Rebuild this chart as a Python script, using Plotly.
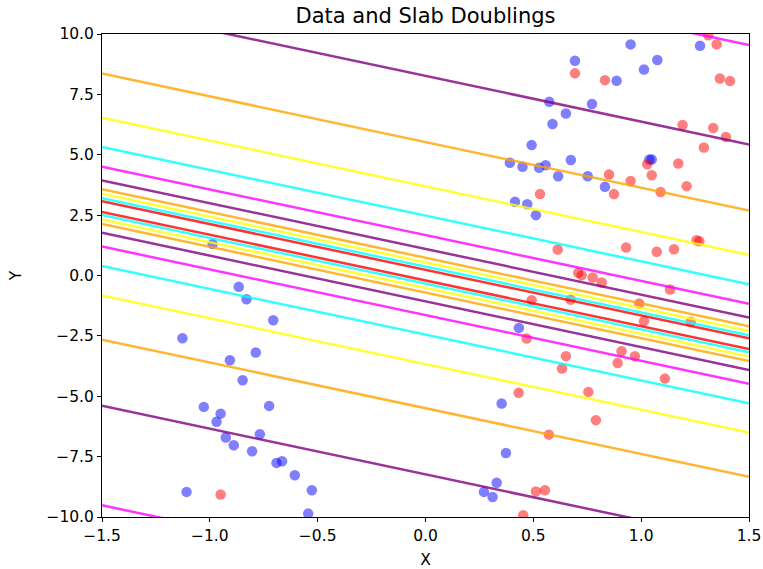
import plotly.graph_objects as go

# ---- data ----
blue_x = [-0.987, -0.866, -0.830, -0.706, -1.127, -0.787, -0.907, -0.848, -1.028, -0.725,
          -0.950, -0.969, -0.768, -0.926, -0.889, -0.804, -0.691, -0.665, -0.606, -1.108,
          -0.527, -0.544,
          0.353, 0.373, 0.330, 0.271, 0.311, 0.433,
          0.693, 0.886, 0.574, 0.772, 0.651, 0.589, 0.492, 0.391, 0.450, 0.527,
          0.557, 0.674, 0.615, 0.752, 0.832, 0.415, 0.472, 0.512,
          0.951, 1.273, 1.075, 1.013, 1.038, 1.049]
blue_y = [1.30, -0.47, -0.98, -1.85, -2.60, -3.19, -3.51, -4.34, -5.44, -5.40,
          -5.72, -6.06, -6.57, -6.71, -7.03, -7.28, -7.76, -7.69, -8.27, -8.96,
          -8.89, -9.86,
          -5.30, -7.35, -8.58, -8.96, -9.17, -2.17,
          8.89, 8.06, 7.19, 7.10, 6.71, 6.27, 5.40, 4.67, 4.50, 4.46,
          4.57, 4.78, 4.11, 4.11, 3.67, 3.05, 2.95, 2.50,
          9.57, 9.51, 8.92, 8.53, 4.80, 4.80]

red_x = [-0.950,
         0.432, 0.755, 0.790, 0.572, 0.512, 0.554, 0.453, 0.633,
         0.613, 0.930, 1.072, 1.152, 1.257, 1.270, 0.708, 0.724, 0.775, 0.817,
         0.492, 0.673, 0.469, 0.651, 0.909, 0.891, 1.134, 0.991, 1.013, 1.230,
         0.971, 1.110,
         0.693, 0.832, 0.531, 0.851, 0.874, 1.350, 1.311, 1.365, 1.412, 1.192,
         1.334, 1.393, 1.291, 1.172, 1.028, 1.049, 0.951, 1.211, 1.090]
red_y = [-9.07,
         -4.86, -4.82, -5.99, -6.59, -8.94, -8.89, -9.93, -3.85,
         1.08, 1.16, 0.98, 1.09, 1.46, 1.42, 0.11, 0.01, -0.08, -0.29,
         -1.02, -1.00, -2.61, -3.34, -3.14, -3.62, -0.58, -1.16, -1.89, -1.92,
         -3.34, -4.27,
         8.37, 8.09, 3.37, 4.18, 3.37, 9.57, 9.95, 8.16, 8.05, 6.23,
         6.11, 5.74, 5.30, 4.64, 4.61, 4.15, 3.91, 3.70, 3.46]

# slab lines: center line y = slope*x + center, boundaries at +/- half width
slope = -1.893
center = 0.015
half_widths = [0.22, 0.35, 0.53, 0.72, 1.085, 1.655, 2.465, 3.68, 5.51, 8.25, 12.37]
line_colors = ['red', 'cyan', 'yellow', 'orange', 'purple', 'magenta',
               'cyan', 'yellow', 'orange', 'purple', 'magenta']

x_ticks = [-1.5, -1.0, -0.5, 0.0, 0.5, 1.0, 1.5]
y_ticks = [-10.0, -7.5, -5.0, -2.5, 0.0, 2.5, 5.0, 7.5, 10.0]

rgba = {'red': 'rgba(255,0,0,0.8)', 'cyan': 'rgba(0,255,255,0.8)',
        'yellow': 'rgba(255,255,0,0.8)', 'orange': 'rgba(255,165,0,0.8)',
        'purple': 'rgba(128,0,128,0.8)', 'magenta': 'rgba(255,0,255,0.8)'}


def fmt(v):
    return f"{v:.1f}".replace("-", "\u2212")


fig = go.Figure()
fig.add_trace(go.Scatter(x=blue_x, y=blue_y, mode='markers',
                         marker=dict(color='rgba(0,0,255,0.5)', size=10.5, line=dict(width=0)),
                         showlegend=False))
fig.add_trace(go.Scatter(x=red_x, y=red_y, mode='markers',
                         marker=dict(color='rgba(255,0,0,0.5)', size=10.5, line=dict(width=0)),
                         showlegend=False))

xs = [x_ticks[0], x_ticks[-1]]
for hw, col in zip(half_widths, line_colors):
    for sgn in (1, -1):
        ys = [slope * x + center + sgn * hw for x in xs]
        fig.add_trace(go.Scatter(x=xs, y=ys, mode='lines',
                                 line=dict(color=rgba[col], width=2.5),
                                 showlegend=False, hoverinfo='skip'))

font = dict(family="DejaVu Sans", size=15.5, color="black")
axis_common = dict(showline=True, linecolor='black', linewidth=1, mirror=True,
                   ticks='outside', ticklen=4, tickcolor='black', showgrid=False,
                   zeroline=False, tickfont=font, automargin=False)

fig.update_layout(
    width=763, height=569,
    margin=dict(l=102, r=14, t=34, b=52),
    paper_bgcolor='white', plot_bgcolor='white',
    font=font,
    title=dict(text="Data and Slab Doublings", x=0.5, xref='paper', xanchor='center',
               y=1 - 16 / 569, yref='container', yanchor='middle',
               font=dict(family="DejaVu Sans", size=21, color='black')),
    xaxis=dict(range=[-1.5, 1.5], tickvals=x_ticks, ticktext=[fmt(v) for v in x_ticks],
               title=dict(text="X", font=font, standoff=13), **axis_common),
    yaxis=dict(range=[-10, 10], tickvals=y_ticks, ticktext=[fmt(v) for v in y_ticks],
               title=dict(text="Y", font=font, standoff=20), **axis_common),
)

fig.write_html("out.html")
